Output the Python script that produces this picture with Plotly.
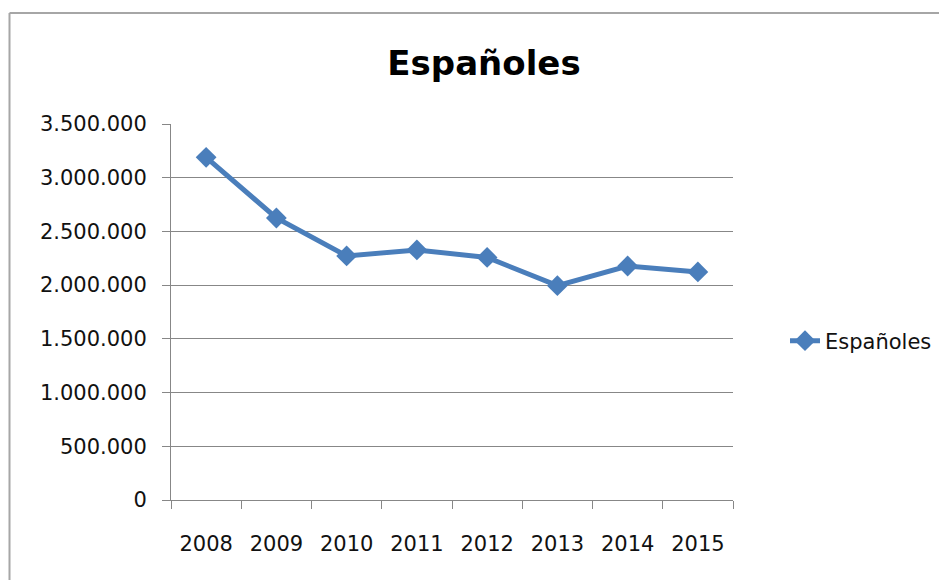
import plotly.graph_objects as go

years = ["2008", "2009", "2010", "2011", "2012", "2013", "2014", "2015"]
espanoles = [3190000, 2625000, 2272000, 2328000, 2258000, 1995000, 2178000, 2123000]
y_ticks = [0, 500000, 1000000, 1500000, 2000000, 2500000, 3000000, 3500000]

W, H = 947, 580
OFF = 8  # page body margin
# target plot area in page pixels: x 171..733, y 124..500
L, T = 171 - OFF, 124 - OFF
R = W - (733 - OFF)
B = H - (500 - OFF)
pw, ph = W - L - R, H - T - B

def px_x(px):
    return (px - OFF - L) / pw

def px_y(py):
    return (H - B - (py - OFF)) / ph

blue = "#4A7EBB"
grid = "#878787"

fig = go.Figure()
fig.add_trace(go.Scatter(
    x=years, y=espanoles, name="Españoles", mode="lines+markers",
    line=dict(color=blue, width=5),
    marker=dict(symbol="diamond", size=16, color=blue),
))

fig.update_layout(
    width=W, height=H,
    margin=dict(l=L, r=R, t=T, b=B),
    paper_bgcolor="white", plot_bgcolor="white",
    separators=",.",
    font=dict(family="DejaVu Sans", size=21, color="#111"),
    title=dict(text="<b>Españoles</b>", x=(484 - OFF) / W, xref="container", xanchor="center",
               y=1 - (63 - OFF) / H, yref="container", yanchor="middle",
               font=dict(family="DejaVu Sans", size=34, color="#000")),
    showlegend=True,
    legend=dict(x=px_x(785), xanchor="left", y=px_y(341), yanchor="middle",
                font=dict(family="DejaVu Sans", size=21, color="#111"),
                bgcolor="rgba(0,0,0,0)", itemwidth=30),
    xaxis=dict(type="category", range=[-0.5, 7.5], tickson="boundaries",
               ticks="outside", ticklen=8, tickcolor=grid, tickwidth=1,
               showline=True, linecolor=grid, linewidth=1, showgrid=False,
               ticklabelstandoff=25, fixedrange=True),
    yaxis=dict(range=[0, 3500000], tickvals=y_ticks, tickformat=",d",
               ticks="outside", ticklen=8, tickcolor=grid, tickwidth=1,
               showline=True, linecolor=grid, linewidth=1,
               showgrid=True, gridcolor=grid, gridwidth=1, zeroline=False,
               ticklabelstandoff=11, fixedrange=True),
    shapes=[
        dict(type="line", xref="paper", yref="paper",
             x0=px_x(9.5), x1=px_x(9.5), y0=px_y(13), y1=px_y(600),
             line=dict(color="#A6A6A6", width=2)),
        dict(type="line", xref="paper", yref="paper",
             x0=px_x(9.5), x1=px_x(960), y0=px_y(13), y1=px_y(13),
             line=dict(color="#A6A6A6", width=2)),
    ],
)

fig.write_html("out.html")
